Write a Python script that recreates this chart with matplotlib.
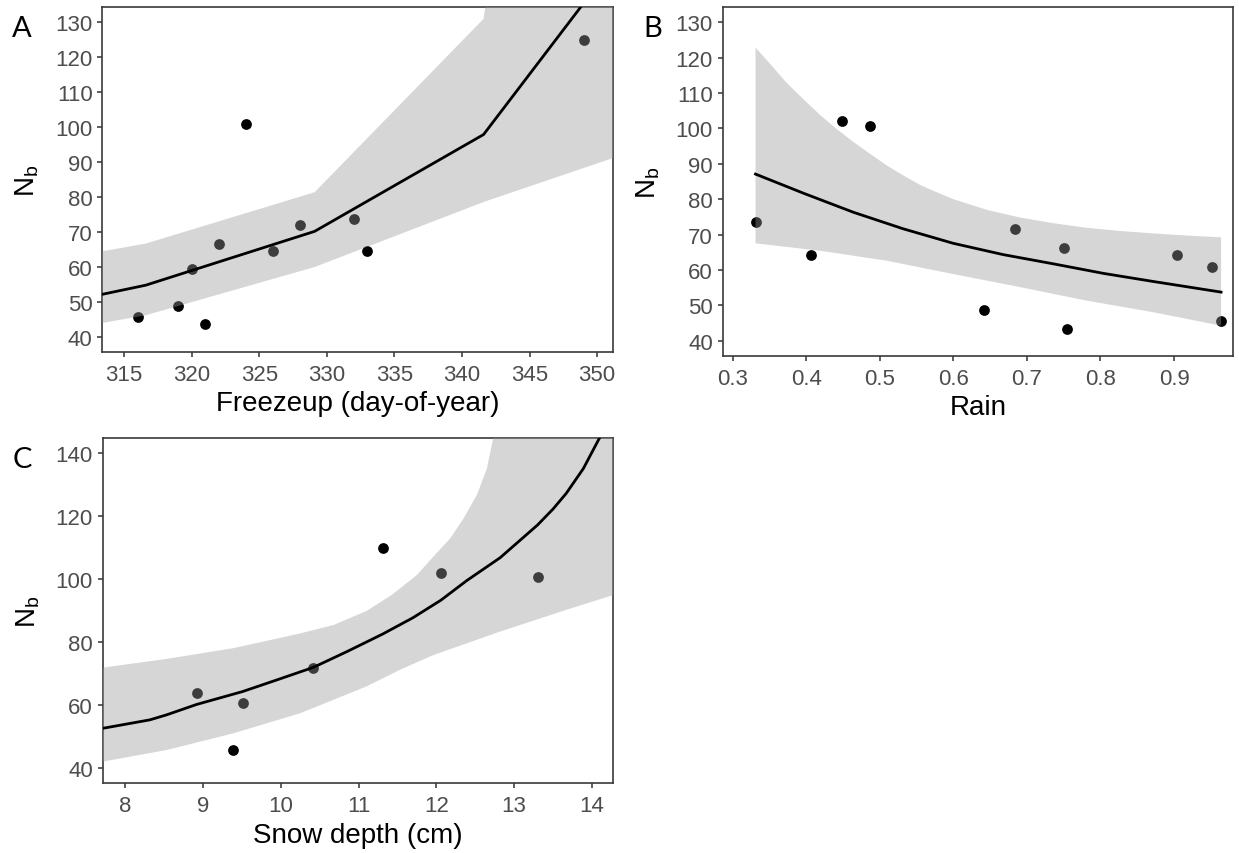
import numpy as np
import matplotlib.pyplot as plt

# Panel A: freeze-up day
a_x = [316, 319, 320, 321, 322, 324, 326, 328, 332, 333, 349]
a_y = [45.7, 48.8, 59.3, 43.6, 66.7, 100.8, 64.5, 71.9, 73.8, 64.5, 124.9]
a_fit_x = [313.4, 316.6, 329.1, 341.6, 351.2]
a_fit = [52.2, 54.8, 70.2, 97.9, 146.6]
a_rib_x = [313.4, 316.6, 329.1, 341.6, 351.2]
a_lo = [44.0, 46.2, 60.0, 78.6, 91.2]
a_hi = [64.5, 66.7, 81.4, 131.0, 390.0]

# Panel B: rain
b_x = [0.331, 0.407, 0.449, 0.486, 0.642, 0.684, 0.750, 0.754, 0.904, 0.951, 0.964]
b_y = [73.5, 64.2, 102.2, 100.6, 48.7, 71.6, 66.2, 43.3, 64.2, 60.7, 45.4]
b_fit_x = [0.331, 0.396, 0.464, 0.532, 0.600, 0.668, 0.736, 0.804, 0.872, 0.964]
b_fit = [87.1, 81.7, 76.3, 71.6, 67.5, 64.3, 61.7, 59.0, 56.7, 53.7]
b_hi_x = [0.331, 0.352, 0.373, 0.396, 0.419, 0.441, 0.464, 0.487, 0.509, 0.532, 0.555,
          0.578, 0.600, 0.645, 0.691, 0.736, 0.781, 0.827, 0.872, 0.918, 0.964]
b_hi = [122.9, 118.0, 113.0, 108.3, 103.8, 99.9, 96.2, 92.8, 89.6, 86.7, 84.0,
        81.9, 80.0, 77.0, 74.8, 73.2, 71.9, 71.0, 70.3, 69.7, 69.2]
b_lo_x = [0.331, 0.419, 0.509, 0.600, 0.691, 0.781, 0.872, 0.964]
b_lo = [67.5, 65.4, 62.6, 58.8, 55.1, 51.3, 48.0, 44.2]

# Panel C: snow depth
c_x = [8.92, 9.39, 9.51, 10.42, 11.31, 12.06, 13.30]
c_y = [63.9, 45.6, 60.7, 71.6, 109.8, 101.8, 100.7]
c_fit_x = [7.713, 8.32, 8.535, 8.92, 9.51, 9.95, 10.42, 10.85, 11.31, 11.70,
           12.06, 12.39, 12.82, 13.30, 13.50, 13.67, 13.89, 14.09, 14.27]
c_fit = [52.5, 55.2, 56.8, 60.1, 64.2, 67.9, 71.9, 76.9, 82.5, 87.7,
         93.3, 99.5, 106.8, 117.2, 122.3, 127.3, 135.2, 144.6, 152.0]
c_hi_x = [7.713, 8.535, 9.39, 10.25, 10.68, 11.10, 11.43, 11.75, 11.96, 12.18, 12.35,
          12.52, 12.65, 12.73, 12.82, 13.03, 14.27]
c_hi = [71.8, 74.6, 78.0, 82.7, 85.4, 89.8, 95.0, 101.3, 107.1, 113.0, 119.3,
        126.7, 135.2, 144.8, 156.5, 188.0, 600.0]
c_lo_x = [7.713, 8.535, 9.39, 10.25, 11.10, 11.53, 11.96, 12.82, 13.67, 14.27]
c_lo = [41.9, 45.6, 50.9, 57.3, 65.8, 71.1, 75.8, 83.3, 90.2, 94.9]

plt.rcParams['font.family'] = ['Liberation Sans', 'DejaVu Sans']

fig = plt.figure(figsize=(12.39, 8.54), dpi=100)
axA = fig.add_axes([0.0827, 0.5867, 0.4123, 0.4036])
axB = fig.add_axes([0.5833, 0.5823, 0.4121, 0.4080])
axC = fig.add_axes([0.0829, 0.0816, 0.4121, 0.4040])

rib = dict(color='#999999', alpha=0.4, lw=0, zorder=3)


def style(ax, xlabel):
    for s in ax.spines.values():
        s.set_color('#3a3a3a')
        s.set_linewidth(1.2)
    ax.tick_params(axis='both', length=3.6, width=1.1, color='#333333',
                   labelcolor='#4d4d4d', labelsize=16)
    ax.tick_params(axis='x', pad=5)
    ax.tick_params(axis='y', pad=3.5)
    ax.set_xlabel(xlabel, fontsize=20, labelpad=4)
    ax.set_ylabel(r'$\mathregular{N_b}$', fontsize=20, labelpad=10)


def ribbon(ax, hx, hy, lx, ly):
    ax.fill(list(hx) + list(lx)[::-1], list(hy) + list(ly)[::-1], **rib)


# A
axA.scatter(a_x, a_y, s=60, color='black', zorder=2, lw=0)
ribbon(axA, a_rib_x, a_hi, a_rib_x, a_lo)
axA.plot(a_fit_x, a_fit, color='black', lw=2.0, zorder=4)
axA.set_xlim(313.4, 351.2)
axA.set_ylim(35.7, 134.3)
axA.set_xticks(np.arange(315, 351, 5))
axA.set_yticks(np.arange(40, 131, 10))
style(axA, 'Freezeup (day-of-year)')

# B
axB.scatter(b_x, b_y, s=60, color='black', zorder=2, lw=0)
ribbon(axB, b_hi_x, b_hi, b_lo_x, b_lo)
axB.plot(b_fit_x, b_fit, color='black', lw=2.0, zorder=4)
axB.set_xlim(0.2864, 0.9806)
axB.set_ylim(35.7, 134.3)
axB.set_xticks([0.3, 0.4, 0.5, 0.6, 0.7, 0.8, 0.9])
axB.set_xticklabels(['0.3', '0.4', '0.5', '0.6', '0.7', '0.8', '0.9'])
axB.set_yticks(np.arange(40, 131, 10))
style(axB, 'Rain')

# C
axC.scatter(c_x, c_y, s=60, color='black', zorder=2, lw=0)
ribbon(axC, c_hi_x, c_hi, c_lo_x, c_lo)
axC.plot(c_fit_x, c_fit, color='black', lw=2.0, zorder=4)
axC.set_xlim(7.713, 14.274)
axC.set_ylim(35.0, 144.8)
axC.set_xticks(np.arange(8, 15, 1))
axC.set_yticks(np.arange(40, 141, 20))
style(axC, 'Snow depth (cm)')

# panel letters
fig.text(0.010, 0.966, 'A', fontsize=21, family=['Lato', 'DejaVu Sans'], va='center')
fig.text(0.519, 0.966, 'B', fontsize=21, family=['Lato', 'DejaVu Sans'], va='center')
fig.text(0.010, 0.461, 'C', fontsize=21, family=['Lato', 'DejaVu Sans'], va='center')

fig.savefig('out.png', dpi=100)
